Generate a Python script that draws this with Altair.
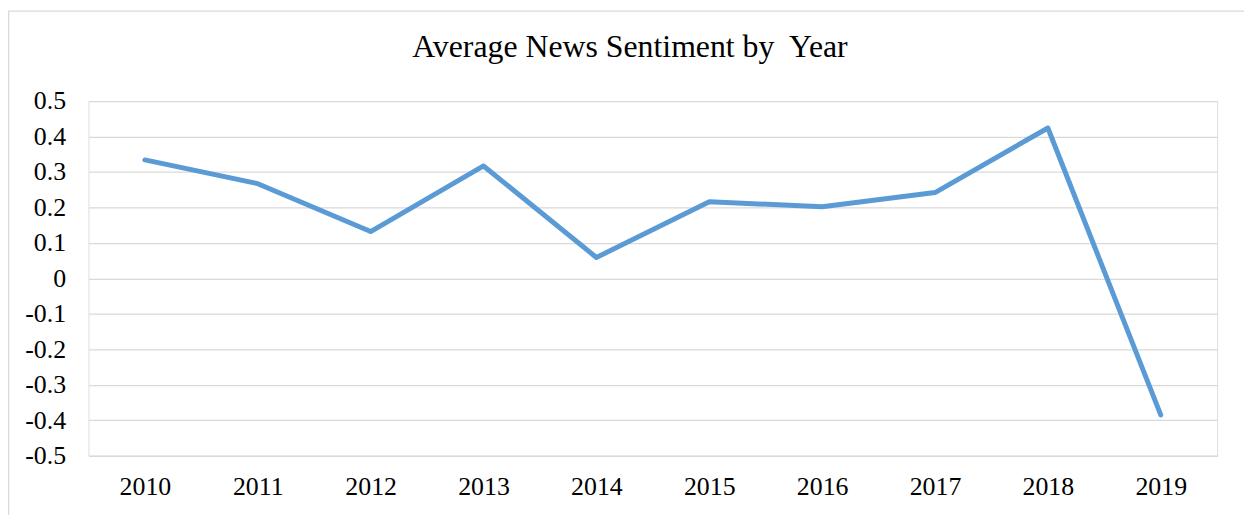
import altair as alt
import pandas as pd

years = ["2010", "2011", "2012", "2013", "2014", "2015", "2016", "2017", "2018", "2019"]
sentiment = [0.334, 0.267, 0.132, 0.317, 0.059, 0.216, 0.202, 0.242, 0.424, -0.385]
y_ticks = [-0.5, -0.4, -0.3, -0.2, -0.1, 0.0, 0.1, 0.2, 0.3, 0.4, 0.5]
title_text = "Average News Sentiment by\u00a0 Year"

df = pd.DataFrame({"Year": years, "Sentiment": sentiment})

FONT = "Liberation Serif"
W, H = 1136, 357

line = alt.Chart(df).mark_line(
    color="#5B9BD5", strokeWidth=5, strokeCap="round", strokeJoin="round"
).encode(
    x=alt.X("Year:N", sort=years,
            scale=alt.Scale(type="point", padding=0.5),
            axis=alt.Axis(title=None, labelAngle=0, ticks=False, tickSize=0,
                          domain=False, grid=False, labelPadding=18,
                          labelFont=FONT, labelFontSize=26, labelColor="#000000",
                          labelBaseline="top")),
    y=alt.Y("Sentiment:Q",
            scale=alt.Scale(domain=[-0.5, 0.5], nice=False, zero=False),
            axis=alt.Axis(title=None, values=y_ticks, ticks=False, tickSize=0,
                          domain=False, grid=True, gridColor="#d9d9d9", gridWidth=1.3,
                          labelPadding=23, labelFont=FONT, labelFontSize=26,
                          labelColor="#000000",
                          labelExpr="abs(datum.value) < 1e-9 ? '0' : (datum.value < 0 ? '-' : '') + format(abs(datum.value), '.1f')")),
)

frame = alt.Chart(pd.DataFrame({"a": [0]})).mark_rect(
    fill="white", fillOpacity=0, stroke="#d9d9d9", strokeWidth=1.5
).encode(
    x=alt.value(-80.5), x2=alt.value(W + 60),
    y=alt.value(-90.5), y2=alt.value(H + 90),
)

chart = alt.layer(frame, line).properties(
    width=W, height=H,
    title=alt.Title(title_text, font=FONT, fontSize=32, fontWeight="normal",
                    color="#000000", anchor="middle", frame="group",
                    baseline="alphabetic", offset=-79, dx=-23),
    padding={"left": 81, "top": 92, "right": 27, "bottom": 58},
    autosize=alt.AutoSizeParams(type="none"),
).configure_view(strokeWidth=0).configure(background="white")

chart.save("out.html", embed_options={"renderer": "svg", "actions": False})
